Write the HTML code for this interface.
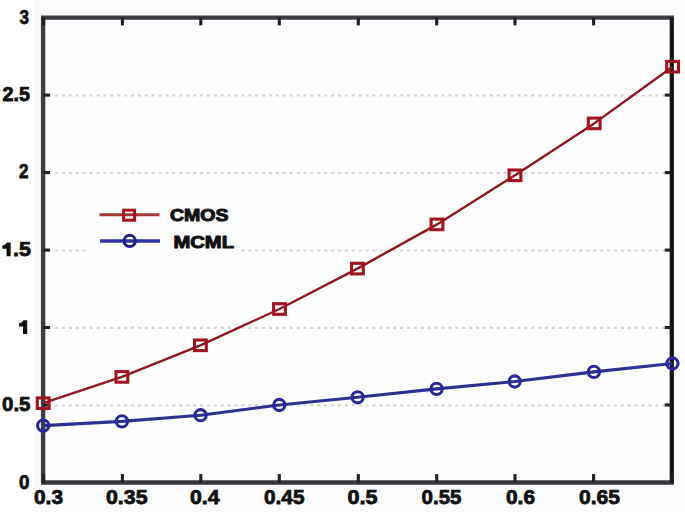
<!DOCTYPE html><html><head><meta charset="utf-8"><style>html,body{margin:0;padding:0;background:#fff;}svg{display:block;}text{font-family:"Liberation Sans",sans-serif;font-weight:bold;fill:#111;}</style></head><body>
<svg width="685" height="512" viewBox="0 0 685 512">
<rect x="34" y="0" width="651" height="512" fill="#fbfbfb"/>
<rect x="43.1" y="17.6" width="628.7" height="464.9" fill="#fdfdfd"/>
<line x1="55.1" y1="405.4" x2="665.8" y2="405.4" stroke="#d4d4d6" stroke-width="2.2" stroke-dasharray="3 3.9"/>
<line x1="55.1" y1="327.9" x2="665.8" y2="327.9" stroke="#d4d4d6" stroke-width="2.2" stroke-dasharray="3 3.9"/>
<line x1="55.1" y1="250.5" x2="665.8" y2="250.5" stroke="#d4d4d6" stroke-width="2.2" stroke-dasharray="3 3.9"/>
<line x1="55.1" y1="173.0" x2="665.8" y2="173.0" stroke="#d4d4d6" stroke-width="2.2" stroke-dasharray="3 3.9"/>
<line x1="55.1" y1="95.5" x2="665.8" y2="95.5" stroke="#d4d4d6" stroke-width="2.2" stroke-dasharray="3 3.9"/>
<rect x="89" y="197" width="148" height="60" fill="#fdfdfd"/>
<line x1="41.0" y1="17.6" x2="673.9" y2="17.6" stroke="#3a3d41" stroke-width="4.2"/>
<line x1="41.0" y1="482.5" x2="673.9" y2="482.5" stroke="#323539" stroke-width="4.4"/>
<line x1="43.1" y1="17.6" x2="43.1" y2="482.5" stroke="#3b3f43" stroke-width="4.4"/>
<line x1="671.8" y1="17.6" x2="671.8" y2="482.5" stroke="#121316" stroke-width="4.2"/>
<line x1="43.6" y1="17.6" x2="43.6" y2="25.4" stroke="#1e2023" stroke-width="3.1"/>
<line x1="43.6" y1="482.5" x2="43.6" y2="474.1" stroke="#1e2023" stroke-width="3.1"/>
<line x1="122.4" y1="17.6" x2="122.4" y2="25.4" stroke="#1e2023" stroke-width="3.1"/>
<line x1="122.4" y1="482.5" x2="122.4" y2="474.1" stroke="#1e2023" stroke-width="3.1"/>
<line x1="200.8" y1="17.6" x2="200.8" y2="25.4" stroke="#1e2023" stroke-width="3.1"/>
<line x1="200.8" y1="482.5" x2="200.8" y2="474.1" stroke="#1e2023" stroke-width="3.1"/>
<line x1="279.3" y1="17.6" x2="279.3" y2="25.4" stroke="#1e2023" stroke-width="3.1"/>
<line x1="279.3" y1="482.5" x2="279.3" y2="474.1" stroke="#1e2023" stroke-width="3.1"/>
<line x1="358.3" y1="17.6" x2="358.3" y2="25.4" stroke="#1e2023" stroke-width="3.1"/>
<line x1="358.3" y1="482.5" x2="358.3" y2="474.1" stroke="#1e2023" stroke-width="3.1"/>
<line x1="436.7" y1="17.6" x2="436.7" y2="25.4" stroke="#1e2023" stroke-width="3.1"/>
<line x1="436.7" y1="482.5" x2="436.7" y2="474.1" stroke="#1e2023" stroke-width="3.1"/>
<line x1="515.0" y1="17.6" x2="515.0" y2="25.4" stroke="#1e2023" stroke-width="3.1"/>
<line x1="515.0" y1="482.5" x2="515.0" y2="474.1" stroke="#1e2023" stroke-width="3.1"/>
<line x1="593.6" y1="17.6" x2="593.6" y2="25.4" stroke="#1e2023" stroke-width="3.1"/>
<line x1="593.6" y1="482.5" x2="593.6" y2="474.1" stroke="#1e2023" stroke-width="3.1"/>
<line x1="672.2" y1="17.6" x2="672.2" y2="25.4" stroke="#1e2023" stroke-width="3.1"/>
<line x1="672.2" y1="482.5" x2="672.2" y2="474.1" stroke="#1e2023" stroke-width="3.1"/>
<line x1="43.1" y1="405.0" x2="50.1" y2="405.0" stroke="#1e2023" stroke-width="3.1"/>
<line x1="671.8" y1="405.0" x2="664.8" y2="405.0" stroke="#1e2023" stroke-width="3.1"/>
<line x1="43.1" y1="327.5" x2="50.1" y2="327.5" stroke="#1e2023" stroke-width="3.1"/>
<line x1="671.8" y1="327.5" x2="664.8" y2="327.5" stroke="#1e2023" stroke-width="3.1"/>
<line x1="43.1" y1="250.1" x2="50.1" y2="250.1" stroke="#1e2023" stroke-width="3.1"/>
<line x1="671.8" y1="250.1" x2="664.8" y2="250.1" stroke="#1e2023" stroke-width="3.1"/>
<line x1="43.1" y1="172.6" x2="50.1" y2="172.6" stroke="#1e2023" stroke-width="3.1"/>
<line x1="671.8" y1="172.6" x2="664.8" y2="172.6" stroke="#1e2023" stroke-width="3.1"/>
<line x1="43.1" y1="95.1" x2="50.1" y2="95.1" stroke="#1e2023" stroke-width="3.1"/>
<line x1="671.8" y1="95.1" x2="664.8" y2="95.1" stroke="#1e2023" stroke-width="3.1"/>
<polyline points="43.2,403.2 121.9,376.9 200.4,345.3 279.5,309.0 357.4,268.6 437.0,224.4 515.0,175.3 594.2,123.4 672.6,66.7" fill="none" stroke="#8e1620" stroke-width="2.4" stroke-linejoin="round"/>
<polyline points="43.2,425.6 121.9,421.4 200.6,415.2 279.3,405.0 357.6,397.3 436.6,388.9 514.7,381.5 593.9,371.9 672.4,363.5" fill="none" stroke="#2c3292" stroke-width="3.1" stroke-linejoin="round"/>
<rect x="37.3" y="397.9" width="11.8" height="10.6" fill="none" stroke="#a01420" stroke-width="3.1"/>
<rect x="116.0" y="371.6" width="11.8" height="10.6" fill="none" stroke="#a01420" stroke-width="3.1"/>
<rect x="194.5" y="340.0" width="11.8" height="10.6" fill="none" stroke="#a01420" stroke-width="3.1"/>
<rect x="273.6" y="303.7" width="11.8" height="10.6" fill="none" stroke="#a01420" stroke-width="3.1"/>
<rect x="351.5" y="263.3" width="11.8" height="10.6" fill="none" stroke="#a01420" stroke-width="3.1"/>
<rect x="431.1" y="219.1" width="11.8" height="10.6" fill="none" stroke="#a01420" stroke-width="3.1"/>
<rect x="509.1" y="170.0" width="11.8" height="10.6" fill="none" stroke="#a01420" stroke-width="3.1"/>
<rect x="588.3" y="118.1" width="11.8" height="10.6" fill="none" stroke="#a01420" stroke-width="3.1"/>
<rect x="666.7" y="61.4" width="11.8" height="10.6" fill="none" stroke="#a01420" stroke-width="3.1"/>
<circle cx="43.2" cy="425.6" r="5.6" fill="none" stroke="#282896" stroke-width="3.1"/>
<circle cx="121.9" cy="421.4" r="5.6" fill="none" stroke="#282896" stroke-width="3.1"/>
<circle cx="200.6" cy="415.2" r="5.6" fill="none" stroke="#282896" stroke-width="3.1"/>
<circle cx="279.3" cy="405.0" r="5.6" fill="none" stroke="#282896" stroke-width="3.1"/>
<circle cx="357.6" cy="397.3" r="5.6" fill="none" stroke="#282896" stroke-width="3.1"/>
<circle cx="436.6" cy="388.9" r="5.6" fill="none" stroke="#282896" stroke-width="3.1"/>
<circle cx="514.7" cy="381.5" r="5.6" fill="none" stroke="#282896" stroke-width="3.1"/>
<circle cx="593.9" cy="371.9" r="5.6" fill="none" stroke="#282896" stroke-width="3.1"/>
<circle cx="672.4" cy="363.5" r="5.6" fill="none" stroke="#282896" stroke-width="3.1"/>
<line x1="99.5" y1="214.8" x2="159.5" y2="214.8" stroke="#a23838" stroke-width="3"/>
<rect x="123.6" y="210.2" width="11" height="10" fill="none" stroke="#a8121a" stroke-width="3"/>
<line x1="100" y1="241" x2="160" y2="241" stroke="#2f33a0" stroke-width="3.4"/>
<circle cx="129.7" cy="240.9" r="5.6" fill="none" stroke="#231e8c" stroke-width="3"/>
<text x="19.50" y="24.00" font-size="19.30" textLength="9.50" lengthAdjust="spacingAndGlyphs" stroke="#111" stroke-width="0.75">3</text>
<text x="2.50" y="100.50" font-size="19.30" textLength="27.50" lengthAdjust="spacingAndGlyphs" stroke="#111" stroke-width="0.75">2.5</text>
<text x="19.00" y="178.00" font-size="19.30" textLength="9.50" lengthAdjust="spacingAndGlyphs" stroke="#111" stroke-width="0.75">2</text>
<text x="13.00" y="256.00" font-size="19.30" textLength="18.00" lengthAdjust="spacingAndGlyphs" stroke="#111" stroke-width="0.75">.5</text>
<text x="2.00" y="410.50" font-size="19.30" textLength="28.50" lengthAdjust="spacingAndGlyphs" stroke="#111" stroke-width="0.75">0.5</text>
<text x="19.00" y="488.50" font-size="19.30" textLength="10.50" lengthAdjust="spacingAndGlyphs" stroke="#111" stroke-width="0.75">0</text>
<text x="34.00" y="504.00" font-size="19.30" textLength="29.00" lengthAdjust="spacingAndGlyphs" stroke="#111" stroke-width="0.75">0.3</text>
<text x="106.00" y="504.00" font-size="19.30" textLength="41.50" lengthAdjust="spacingAndGlyphs" stroke="#111" stroke-width="0.75">0.35</text>
<text x="190.00" y="504.00" font-size="19.30" textLength="29.50" lengthAdjust="spacingAndGlyphs" stroke="#111" stroke-width="0.75">0.4</text>
<text x="264.00" y="504.00" font-size="19.30" textLength="40.50" lengthAdjust="spacingAndGlyphs" stroke="#111" stroke-width="0.75">0.45</text>
<text x="347.50" y="504.00" font-size="19.30" textLength="30.00" lengthAdjust="spacingAndGlyphs" stroke="#111" stroke-width="0.75">0.5</text>
<text x="421.50" y="504.00" font-size="19.30" textLength="40.00" lengthAdjust="spacingAndGlyphs" stroke="#111" stroke-width="0.75">0.55</text>
<text x="506.00" y="504.00" font-size="19.30" textLength="29.00" lengthAdjust="spacingAndGlyphs" stroke="#111" stroke-width="0.75">0.6</text>
<text x="579.00" y="504.00" font-size="19.30" textLength="41.00" lengthAdjust="spacingAndGlyphs" stroke="#111" stroke-width="0.75">0.65</text>
<text x="170.00" y="221.00" font-size="16.50" textLength="58.50" lengthAdjust="spacingAndGlyphs" stroke="#111" stroke-width="1.00">CMOS</text>
<text x="173.50" y="247.50" font-size="16.50" textLength="60.50" lengthAdjust="spacingAndGlyphs" stroke="#111" stroke-width="1.00">MCML</text>
<path d="M27.20 320.20L27.20 334.00L23.00 334.00L23.00 326.40L19.00 326.40L19.00 323.20C21.20 322.90 22.80 321.80 23.30 320.20Z" fill="#111"/>
<path d="M10.70 242.50L10.70 256.30L6.50 256.30L6.50 248.70L2.30 248.70L2.30 245.50C4.50 245.20 6.30 244.10 6.80 242.50Z" fill="#111"/>
</svg></body></html>
